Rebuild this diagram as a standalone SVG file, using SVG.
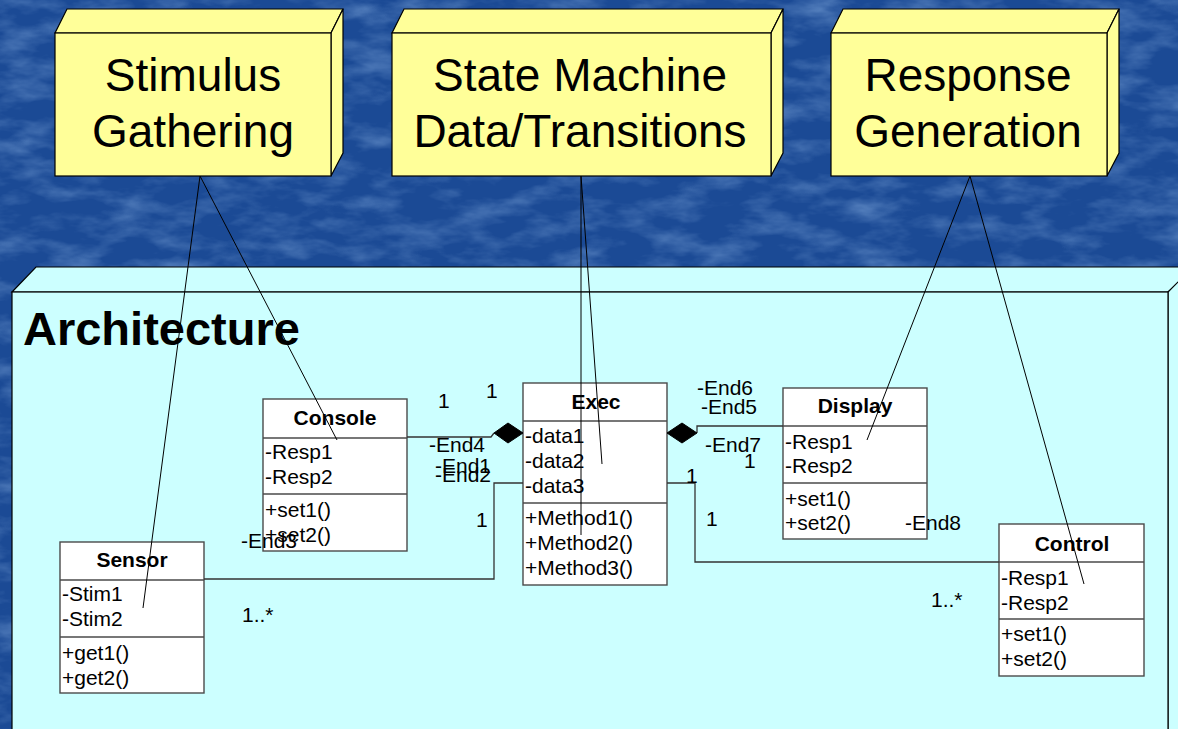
<svg xmlns="http://www.w3.org/2000/svg" width="1178" height="729" viewBox="0 0 1178 729">
<defs>
<filter id="tex" x="0" y="0" width="100%" height="100%">
<feTurbulence type="fractalNoise" baseFrequency="0.02 0.05" numOctaves="4" seed="7"/>
<feColorMatrix type="matrix" values="0 0 0 0 0.3  0 0 0 0 0.5  0 0 0 0 0.82  0.9 0 0 0 -0.38"/>
</filter>
<style>
.big{font-family:"Liberation Sans",Arial,sans-serif;font-size:46px;fill:#000;text-anchor:middle}
.arch{font-family:"Liberation Sans",Arial,sans-serif;font-size:47px;font-weight:bold;fill:#000}
.cn{font-family:"Liberation Sans",Arial,sans-serif;font-size:21px;font-weight:bold;fill:#000;text-anchor:middle}
.t{font-family:"Liberation Sans",Arial,sans-serif;font-size:21px;fill:#000}
.yel{fill:#ffff99;stroke:#000;stroke-width:1.2}
.cyan{fill:#ccffff;stroke:#000;stroke-width:1.2}
.box{fill:#fff;stroke:#4a4a4a;stroke-width:1.4}
.div{stroke:#4a4a4a;stroke-width:1.4}
.conn{fill:none;stroke:#333;stroke-width:1.3}
.trace{fill:none;stroke:#000;stroke-width:1}
.dia{fill:#000;stroke:#000}
</style>
</defs>
<rect x="0" y="0" width="1178" height="729" fill="#1b4a95"/>
<rect x="0" y="0" width="1178" height="729" filter="url(#tex)"/>

<g id="stimulus">
<polygon class="yel" points="55,33 67,9 343,9 331,33"/>
<polygon class="yel" points="331,33 343,9 343,153 331,176"/>
<rect class="yel" x="55" y="33" width="276" height="143"/>
<text class="big" x="193" y="91">Stimulus</text>
<text class="big" x="193" y="147">Gathering</text>
</g>
<g id="statemachine">
<polygon class="yel" points="392,33 404,9 783,9 771,33"/>
<polygon class="yel" points="771,33 783,9 783,153 771,176"/>
<rect class="yel" x="392" y="33" width="379" height="143"/>
<text class="big" x="580" y="91">State Machine</text>
<text class="big" x="580" y="147">Data/Transitions</text>
</g>
<g id="response">
<polygon class="yel" points="831,33 843,9 1119,9 1107,33"/>
<polygon class="yel" points="1107,33 1119,9 1119,153 1107,176"/>
<rect class="yel" x="831" y="33" width="276" height="143"/>
<text class="big" x="968" y="91">Response</text>
<text class="big" x="968" y="147">Generation</text>
</g>

<g id="architecture">
<polygon class="cyan" points="12,292 36,267 1200,267 1168,292"/>
<polygon class="cyan" points="1168,292 1193,267 1193,760 1168,760"/>
<rect class="cyan" x="12" y="292" width="1156" height="470"/>
<text class="arch" x="23" y="345">Architecture</text>
</g>

<g id="console">
<rect class="box" x="263" y="399" width="144" height="152"/>
<line class="div" x1="263" y1="438" x2="407" y2="438"/>
<line class="div" x1="263" y1="494" x2="407" y2="494"/>
<text class="cn" x="335" y="425">Console</text>
<text class="t" x="265" y="459">-Resp1</text>
<text class="t" x="265" y="484">-Resp2</text>
<text class="t" x="265" y="517">+set1()</text>
<text class="t" x="265" y="542">+set2()</text>
</g>
<g id="exec">
<rect class="box" x="523" y="383" width="144" height="202"/>
<line class="div" x1="523" y1="421" x2="667" y2="421"/>
<line class="div" x1="523" y1="503" x2="667" y2="503"/>
<text class="cn" x="596" y="409">Exec</text>
<text class="t" x="525" y="443">-data1</text>
<text class="t" x="525" y="468">-data2</text>
<text class="t" x="525" y="493">-data3</text>
<text class="t" x="525" y="525">+Method1()</text>
<text class="t" x="525" y="550">+Method2()</text>
<text class="t" x="525" y="575">+Method3()</text>
</g>
<g id="display">
<rect class="box" x="783" y="388" width="144" height="151"/>
<line class="div" x1="783" y1="426" x2="927" y2="426"/>
<line class="div" x1="783" y1="483" x2="927" y2="483"/>
<text class="cn" x="855" y="413">Display</text>
<text class="t" x="785" y="449">-Resp1</text>
<text class="t" x="785" y="473">-Resp2</text>
<text class="t" x="785" y="506">+set1()</text>
<text class="t" x="785" y="530">+set2()</text>
</g>
<g id="control">
<rect class="box" x="999" y="524" width="145" height="152"/>
<line class="div" x1="999" y1="562" x2="1144" y2="562"/>
<line class="div" x1="999" y1="619" x2="1144" y2="619"/>
<text class="cn" x="1072" y="551">Control</text>
<text class="t" x="1001" y="585">-Resp1</text>
<text class="t" x="1001" y="610">-Resp2</text>
<text class="t" x="1001" y="641">+set1()</text>
<text class="t" x="1001" y="666">+set2()</text>
</g>
<g id="sensor">
<rect class="box" x="60" y="542" width="144" height="151"/>
<line class="div" x1="60" y1="580" x2="204" y2="580"/>
<line class="div" x1="60" y1="637" x2="204" y2="637"/>
<text class="cn" x="132" y="567">Sensor</text>
<text class="t" x="62" y="601">-Stim1</text>
<text class="t" x="62" y="626">-Stim2</text>
<text class="t" x="62" y="660">+get1()</text>
<text class="t" x="62" y="685">+get2()</text>
</g>

<g id="connectors">
<polyline class="conn" points="407,437 491,437 494,433"/>
<polygon class="dia" points="494,433 508,423 523,433 508,443"/>
<polyline class="conn" points="697,433 697,426 783,426"/>
<polygon class="dia" points="667,433 682,423 697,433 682,443"/>
<polyline class="conn" points="204,579 494,579 494,483 523,483"/>
<polyline class="conn" points="667,483 695,483 695,562 999,562"/>

<line class="trace" x1="200" y1="176" x2="143" y2="608"/>
<line class="trace" x1="200" y1="176" x2="337" y2="440"/>
<line class="trace" x1="581" y1="176" x2="581" y2="535"/>
<line class="trace" x1="581" y1="176" x2="602" y2="464"/>
<line class="trace" x1="970" y1="176" x2="867" y2="440"/>
<line class="trace" x1="970" y1="176" x2="1084" y2="584"/>

<text class="t" x="438" y="408">1</text>
<text class="t" x="486" y="398">1</text>
<text class="t" x="429" y="452">-End4</text>
<text class="t" x="435" y="473">-End1</text>
<text class="t" x="435" y="482">-End2</text>
<text class="t" x="476" y="527">1</text>
<text class="t" x="241" y="548">-End3</text>
<text class="t" x="242" y="622">1..*</text>
<text class="t" x="697" y="395">-End6</text>
<text class="t" x="701" y="414">-End5</text>
<text class="t" x="705" y="452">-End7</text>
<text class="t" x="744" y="468">1</text>
<text class="t" x="686" y="483">1</text>
<text class="t" x="706" y="526">1</text>
<text class="t" x="905" y="530">-End8</text>
<text class="t" x="931" y="607">1..*</text>
</g>
</svg>
